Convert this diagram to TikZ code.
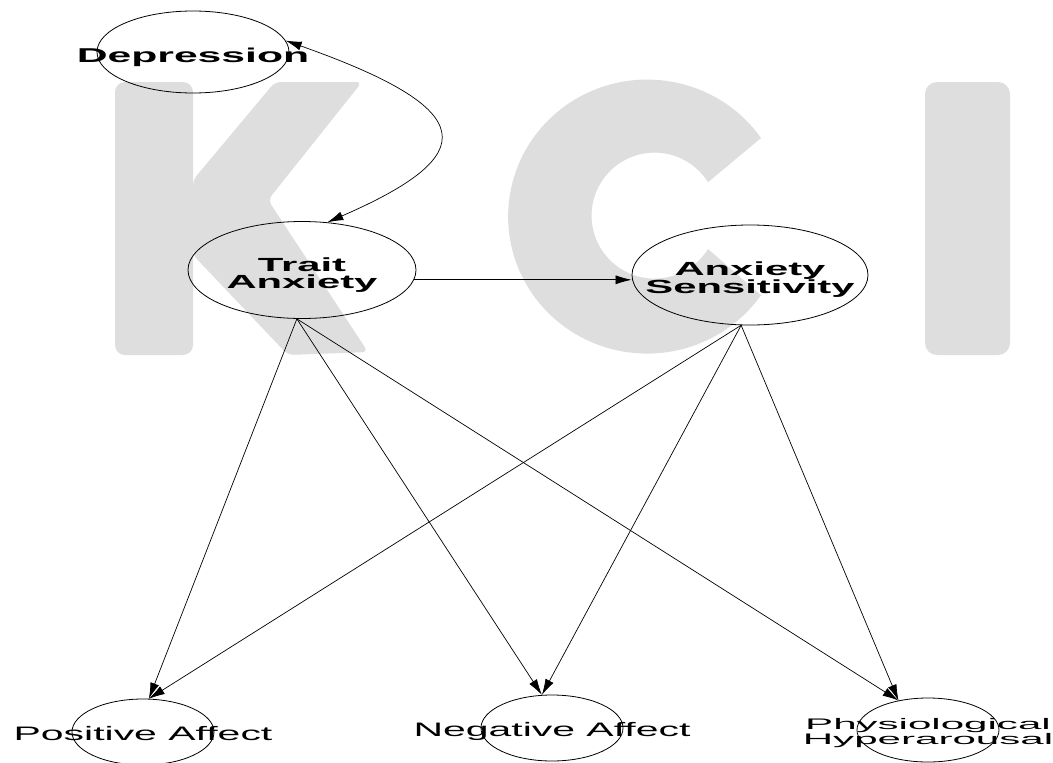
\documentclass[tikz,border=0pt]{standalone}
\usepackage{fontspec}
\setmainfont{Liberation Sans}
\usetikzlibrary{shapes.geometric,arrows.meta}

\definecolor{markgray}{RGB}{222,222,222}

\tikzset{
  var/.style={ellipse,draw,line width=0.8pt,inner sep=0pt},
  bigvar/.style={var,minimum width=228pt,minimum height=97pt},
  lowvar/.style={var,minimum width=142pt,minimum height=66pt},
  boldlbl/.style={font=\fontsize{19}{17}\selectfont\bfseries,align=center,xscale=2.2},
  plainlbl/.style={font=\fontsize{19.5}{18}\selectfont,align=center,xscale=2.1},
  path/.style={line width=0.7pt,->},
}

\begin{document}
\begin{tikzpicture}[x=1pt,y=-1pt,>={Latex[length=16pt,width=9pt]}]
  \useasboundingbox (0,0) rectangle (1053,763);
  \fill[white] (0,0) rectangle (1053,763);

  %grey letters in the back
  \begin{scope}[markgray]
    \fill[rounded corners=10pt] (115,82) rectangle (193,355); % K bar
    \fill[rounded corners=6pt] (193,180) -- (275,82) -- (362,82) -- (268,200)
      -- (368,352) -- (288,355) -- (193,255) -- cycle;      % K arms
    \fill (761,138) arc[start angle=-35,end angle=-325,x radius=139,y radius=137]
      -- (708,249) arc[start angle=32,end angle=328,radius=63] -- cycle; % C
    \fill[rounded corners=12pt] (925,82) rectangle (1010,355); % I
  \end{scope}

  %latent variables
  \node[var,minimum width=192pt,minimum height=82pt,
        label={[boldlbl,xscale=0.97,font=\fontsize{20}{18}\selectfont\bfseries,yshift=-5pt]center:Depression}]
        (dep) at (193,52) {};
  \node[bigvar,label={[boldlbl,yshift=-5pt]center:Trait\\Anxiety}] (trait) at (302,270) {};
  \node[bigvar,minimum width=236pt,minimum height=100pt,
        label={[boldlbl,yshift=-4.5pt]center:Anxiety\\Sensitivity}] (as) at (750,275) {};

  %outcomes
  \node[lowvar,label={[plainlbl,yshift=-2pt]center:Positive Affect}] (pos) at (143,732) {};
  \node[lowvar,label={[plainlbl,yshift=-3.5pt]center:Negative Affect}] (neg) at (552,728) {};
  \node[lowvar,minimum height=64pt,
        label={[plainlbl,font=\fontsize{15.3}{15}\selectfont,xscale=1.31,yshift=-3.5pt]center:Physiological\\Hyperarousal}]
        (phys) at (928,730) {};

  %paths
  \draw[line width=0.7pt,<->] (dep.7) .. controls (482,110) and (482,155) .. (trait.62);
  \draw[path] (trait.-5) -- (trait.-5 -| as.west);
  \foreach \t/\a in {pos/80,neg/107,phys/135}{
    \draw[path] (trait.264) -- (\t.\a);
    \draw[path] (as.260) -- (\t.\a);
  }
\end{tikzpicture}
\end{document}
